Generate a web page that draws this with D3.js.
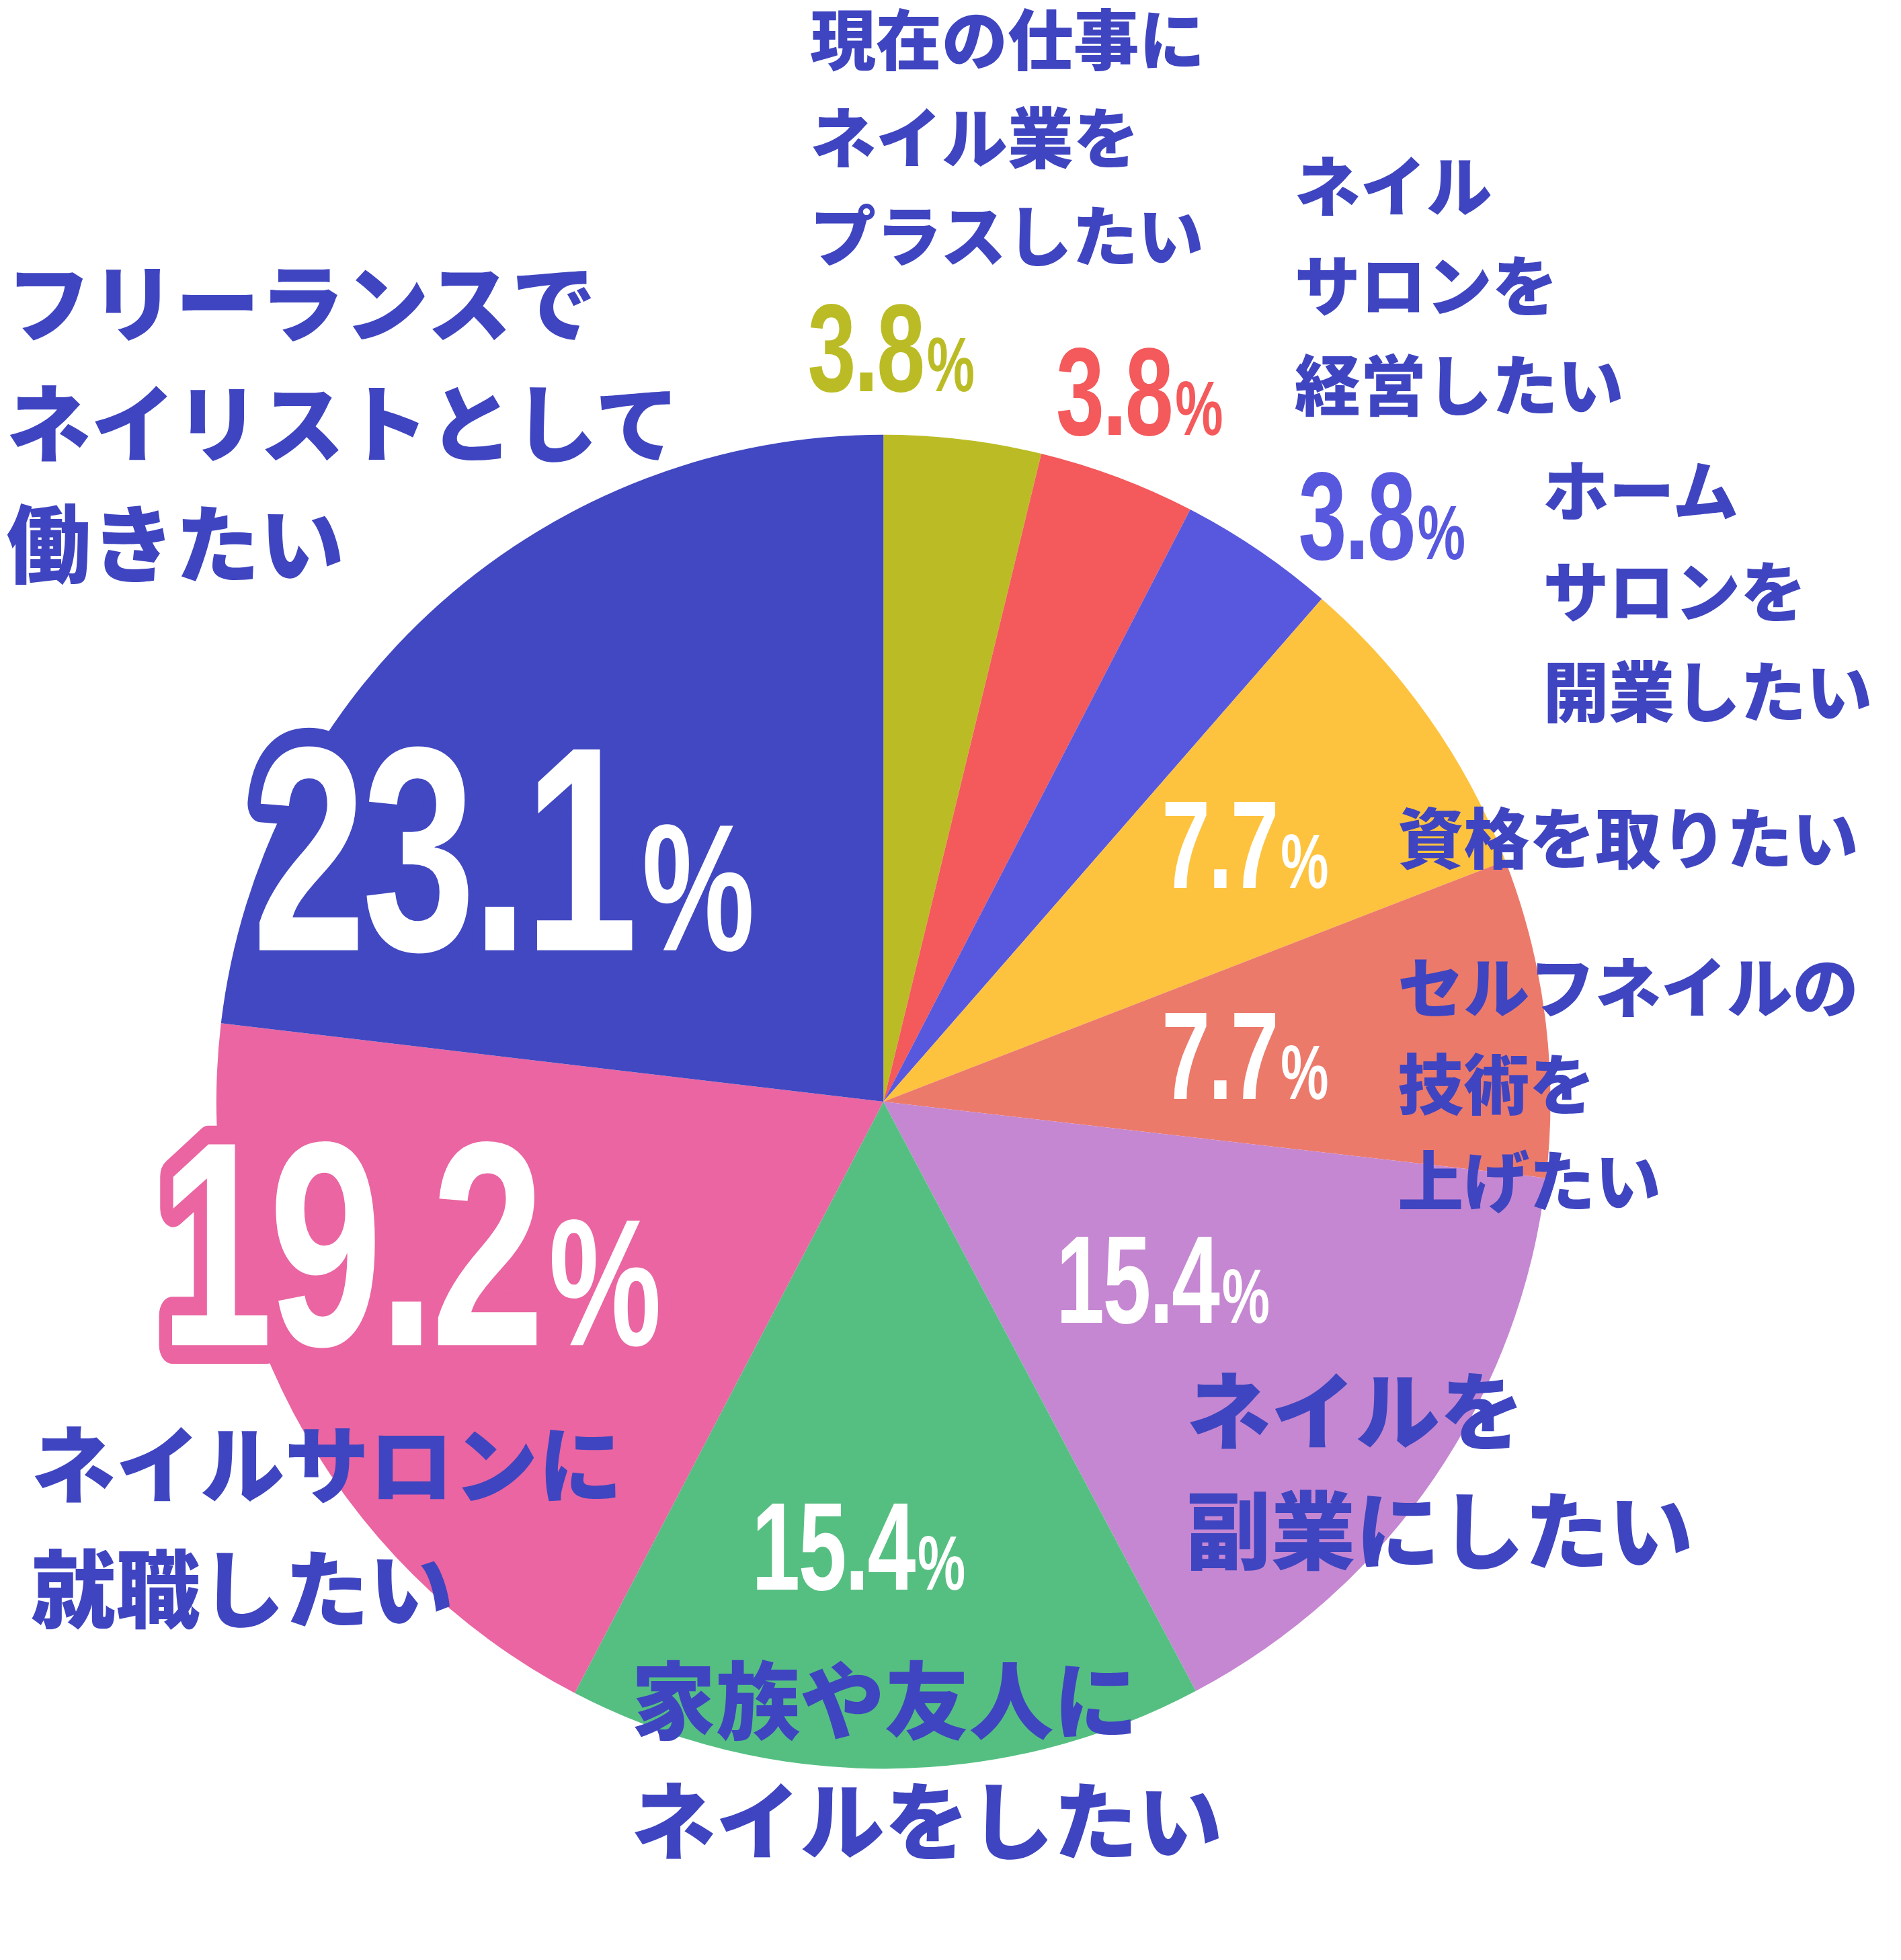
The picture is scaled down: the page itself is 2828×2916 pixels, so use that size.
<!DOCTYPE html>
<html><head><meta charset="utf-8">
<script src="https://cdn.jsdelivr.net/npm/d3@7"></script>
<style>body{margin:0;background:#fff}</style>
</head><body>
<script>
const categories = ["現在の仕事にネイル業をプラスしたい","ネイルサロンを経営したい","ホームサロンを開業したい","資格を取りたい","セルフネイルの技術を上げたい","ネイルを副業にしたい","家族や友人にネイルをしたい","ネイルサロンに就職したい","フリーランスでネイリストとして働きたい"];
const values = [3.8,3.8,3.8,7.7,7.7,15.4,15.4,19.2,23.1];
const colors = ["#BBBC25","#F4595B","#5858DE","#FDC33F","#EC7A6B","#C587D1","#55BF82","#EA65A1","#4148C1"];
const labelLines = [
 ["現在の仕事に","ネイル業を","プラスしたい"],
 ["ネイル","サロンを","経営したい"],
 ["ホーム","サロンを","開業したい"],
 ["資格を取りたい"],
 ["セルフネイルの","技術を","上げたい"],
 ["ネイルを","副業にしたい"],
 ["家族や友人に","ネイルをしたい"],
 ["ネイルサロンに","就職したい"],
 ["フリーランスで","ネイリストとして","働きたい"]
];
const W=1530,H=1578;
const svg=d3.select("body").append("svg").attr("width",2828).attr("height",2916).attr("viewBox",`0 0 ${W} ${H}`);
const cx=711,cy=887,R=537;
const pie=d3.pie().sort(null).value(d=>d)(values);
const arc=d3.arc().innerRadius(0).outerRadius(R);
svg.append("g").attr("transform",`translate(${cx},${cy})`).selectAll("path").data(pie).join("path")
 .attr("d",arc).attr("fill",(d,i)=>colors[i]);
const TC="#3F45C0", JP="'Noto Sans CJK JP','Noto Sans CJK SC',sans-serif", NUM="'Liberation Sans','DejaVu Sans',sans-serif";
const lpos=[[652,52,79,53],[1042,170,80,53],[1242,415,81,53],[1125,695,0,53],[1125,815,78,53],[955,1162,96,68],[508,1395,97,68],[25,1205,100,68],[5,270,97,68]];
labelLines.forEach((ls,i)=>{
 const [x,y,g,fs]=lpos[i];
 ls.forEach((t,j)=>svg.append("text").attr("x",x).attr("y",y+j*g).attr("font-family",JP).attr("font-weight",900)
   .attr("font-size",fs).attr("fill",TC).text(t));
});
const ppos=[[650,315,100,"#BBBC25",null],[850,350,100,"#F4595B",null],[1045,450,100,"#5858DE",null],
 [935,715,100,"#fff",null],[935,885,100,"#fff",null],[850,1065,100,"#fff",null],[605,1280,100,"#fff",null],
 [128,1083,235,"#fff","#EA65A1"],[203,765,235,"#fff","#4148C1"]];
ppos.forEach(([x,y,fs,fill,stroke],i)=>{
 const g=svg.append("g").attr("transform",`translate(${x},${y}) scale(0.7,1)`);
 const mk=()=>{const t=g.append("text").attr("x",0).attr("y",0).attr("font-family",NUM).attr("font-weight",700).attr("font-size",fs).attr("letter-spacing",-fs*0.02);
  t.append("tspan").text(values[i].toFixed(1));
  t.append("tspan").attr("font-size",fs*0.62).attr("dx",fs*0.04).text("%");return t;};
 if(stroke){mk().attr("fill",stroke).attr("stroke",stroke).attr("stroke-width",30).attr("stroke-linejoin","round");}
 mk().attr("fill",fill);
});
</script>
</body></html>
